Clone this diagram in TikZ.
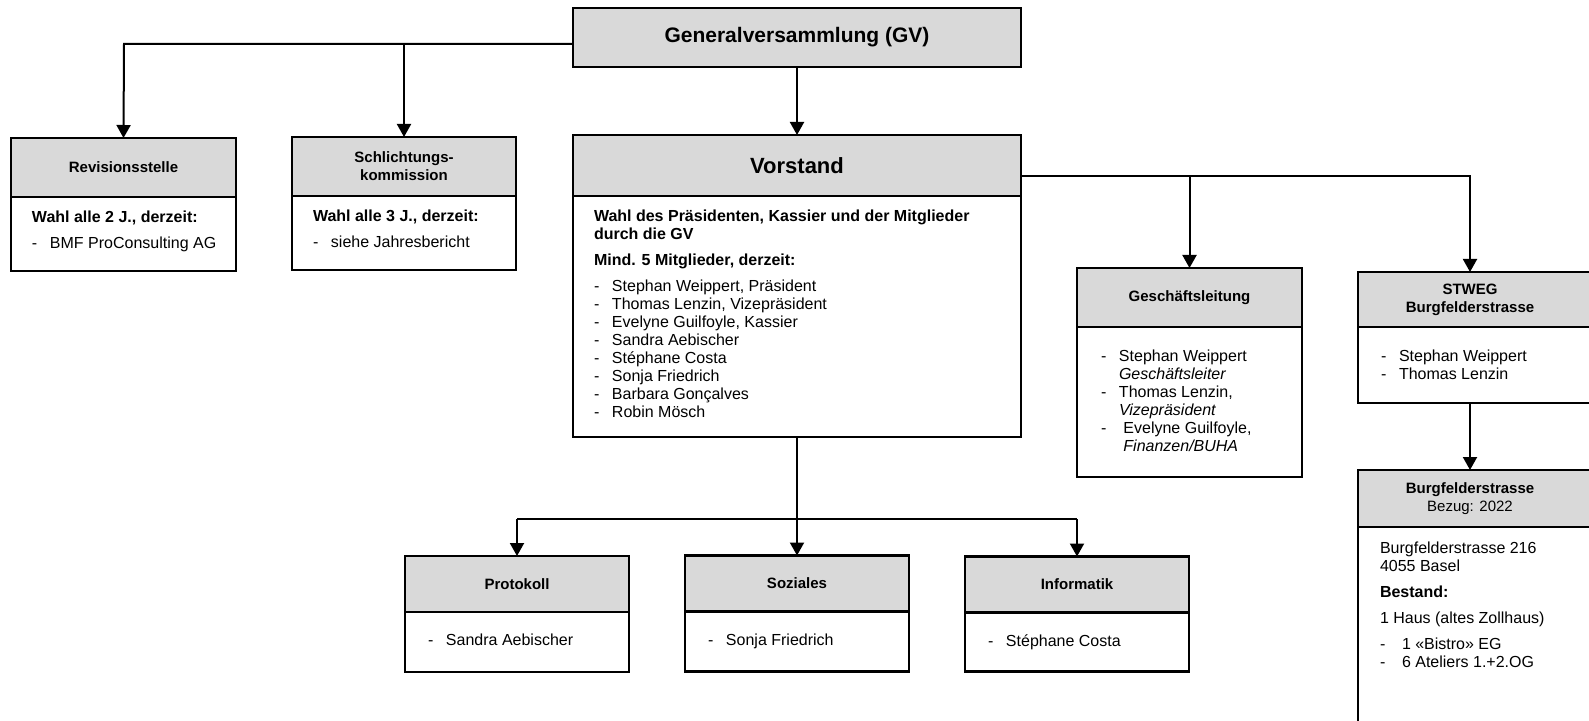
\documentclass[tikz,border=0pt]{standalone}
\usepackage{fontspec}
\setmainfont{Liberation Sans}
\usetikzlibrary{arrows.meta,calc}
\definecolor{hgray}{RGB}{217,217,217}
\newcommand\dsh{\makebox[9pt][l]{-}}
\newcommand\dshw{\makebox[11pt][l]{-}}
\begin{document}
\begin{tikzpicture}[x=0.5pt,y=-0.5pt,
  hdr/.style={draw, fill=hgray, line width=1.25pt, inner sep=0pt, outer sep=0pt, align=center, font=\bfseries\fontsize{7.5}{9}\selectfont},
  bdy/.style={draw, fill=white, line width=1.25pt, inner sep=0pt, outer sep=0pt, anchor=north},
  txt/.style={anchor=north west, inner sep=0pt, outer sep=0pt, align=left, font=\fontsize{8}{9}\selectfont},
  ttl/.style={inner sep=0pt, outer sep=0pt, align=center, font=\bfseries\fontsize{7.5}{9}\selectfont},
  arr/.style={line width=1pt, -{Triangle[width=7pt,length=6.5pt]}},
  ln/.style={line width=1pt}]
\useasboundingbox (0,0) rectangle (1589,721);

% Generalversammlung
\node[hdr, minimum width=224pt, minimum height=29.5pt, font=\bfseries\fontsize{10.5}{12}\selectfont] (gv) at (797,37.5) {Generalversammlung (GV)};

% Revisionsstelle
\node[hdr, minimum width=112.5pt, minimum height=29.5pt] (revh) at (123.5,167.5) {Revisionsstelle};
\node[bdy, minimum width=112.5pt, minimum height=37pt] (revb) at (revh.south) {};
\node[txt] (revt) at ($(revb.north west)+(21,14)$) {\textbf{Wahl alle 2 J., derzeit:}\\[4pt]\dsh BMF ProConsulting AG};

% Schlichtungskommission
\node[hdr, minimum width=112pt, minimum height=29.5pt] (schh) at (404,166.5) {Schlichtungs-\\kommission};
\node[bdy, minimum width=112pt, minimum height=37pt] (schb) at (schh.south) {};
\node[txt] (scht) at ($(schb.north west)+(21,14)$) {\textbf{Wahl alle 3 J., derzeit:}\\[4pt]\dsh siehe Jahresbericht};

% Vorstand
\node[hdr, minimum width=224pt, minimum height=30.5pt, font=\bfseries\fontsize{11}{13}\selectfont] (vh) at (797,165.5) {Vorstand};
\node[bdy, minimum width=224pt, minimum height=120.5pt] (vb) at (vh.south) {};
\node[txt] (vt) at ($(vb.north west)+(21,14)$) {\textbf{Wahl des Präsidenten, Kassier und der Mitglieder}\\
\textbf{durch die GV}\\[4pt]
\textbf{Mind. 5 Mitglieder, derzeit:}\\[4pt]
\dsh Stephan Weippert, Präsident\\
\dsh Thomas Lenzin, Vizepräsident\\
\dsh Evelyne Guilfoyle, Kassier\\
\dsh Sandra Aebischer\\
\dsh Stéphane Costa\\
\dsh Sonja Friedrich\\
\dsh Barbara Gonçalves\\
\dsh Robin Mösch};

% Geschaeftsleitung
\node[hdr, minimum width=112.5pt, minimum height=29.5pt] (glh) at (1189.5,297.5) {Geschäftsleitung};
\node[bdy, minimum width=112.5pt, minimum height=75pt] (glb) at (glh.south) {};
\node[txt] (glt) at ($(glb.north west)+(24,23)$) {\dsh Stephan Weippert\\
\hspace*{9pt}\textit{Geschäftsleiter}\\
\dsh Thomas Lenzin,\\
\hspace*{9pt}\textit{Vizepräsident}\\
\dsh\ Evelyne Guilfoyle,\\
\hspace*{9pt}\ \textit{Finanzen/BUHA}};

% STWEG
\coordinate (vj) at (1470,176);
\node[hdr, minimum width=121pt, minimum height=27.5pt] (stwh) at (1479,299.5) {};
\node[ttl] (stwt) at (vj |- stwh.center) {STWEG\\Burgfelderstrasse};
\node[bdy, minimum width=121pt, minimum height=38pt] (stwb) at (stwh.south) {};
\node[txt] (stwl) at ($(stwb.north west)+(23,23)$) {\dsh Stephan Weippert\\\dsh Thomas Lenzin};

% Burgfelderstrasse
\node[hdr, minimum width=121pt, minimum height=28.5pt] (burh) at (1479,498.5) {};
\node[ttl] (burt) at (vj |- burh.center) {Burgfelderstrasse\\\mdseries Bezug: 2022};
\node[bdy, minimum width=121pt, minimum height=102pt] (burb) at (burh.south) {};
\node[txt] (burl) at ($(burb.north west)+(22,15)$) {Burgfelderstrasse 216\\
4055 Basel\\[4pt]
\textbf{Bestand:}\\[4pt]
1 Haus (altes Zollhaus)\\[4pt]
\dshw 1 «Bistro» EG\\
\dshw 6 Ateliers 1.+2.OG};

% Bottom row
\node[hdr, minimum width=112pt, minimum height=28pt] (proth) at (517,584) {Protokoll};
\node[bdy, minimum width=112pt, minimum height=30pt] (protb) at (proth.south) {};
\node[txt] (prott) at ($(protb.north west)+(23,22)$) {\dsh Sandra Aebischer};

\node[hdr, minimum width=112pt, minimum height=28pt] (sozh) at (797,583.5) {Soziales};
\node[bdy, minimum width=112pt, minimum height=30pt] (sozb) at (sozh.south) {};
\node[txt] (sozt) at ($(sozb.north west)+(23,22)$) {\dsh Sonja Friedrich};

\node[hdr, minimum width=112pt, minimum height=28pt] (infh) at (1077,584.5) {Informatik};
\node[bdy, minimum width=112pt, minimum height=29.5pt] (infb) at (infh.south) {};
\node[txt] (inft) at ($(infb.north west)+(23,22)$) {\dsh Stéphane Costa};

% Connectors
\coordinate (gj) at (124,44);
\draw[arr] (gv.west |- gj) -- (gj) -- (revh.north);
\draw[arr] (schh.north |- gj) -- (schh.north);
\draw[arr] (gv.south) -- (vh.north);
\draw[arr] (vh.east |- vj) -- (vj) -- (vj |- stwh.north);
\draw[arr] (glh.north |- vj) -- (glh.north);
\draw[arr] (vj |- stwb.south) -- (vj |- burh.north);
\coordinate (bj) at (797,519);
\draw[ln] (vb.south) -- (bj);
\draw[ln] (proth.north |- bj) -- (infh.north |- bj);
\draw[arr] (proth.north |- bj) -- (proth.north);
\draw[arr] (bj) -- (sozh.north);
\draw[arr] (infh.north |- bj) -- (infh.north);
\end{tikzpicture}
\end{document}
